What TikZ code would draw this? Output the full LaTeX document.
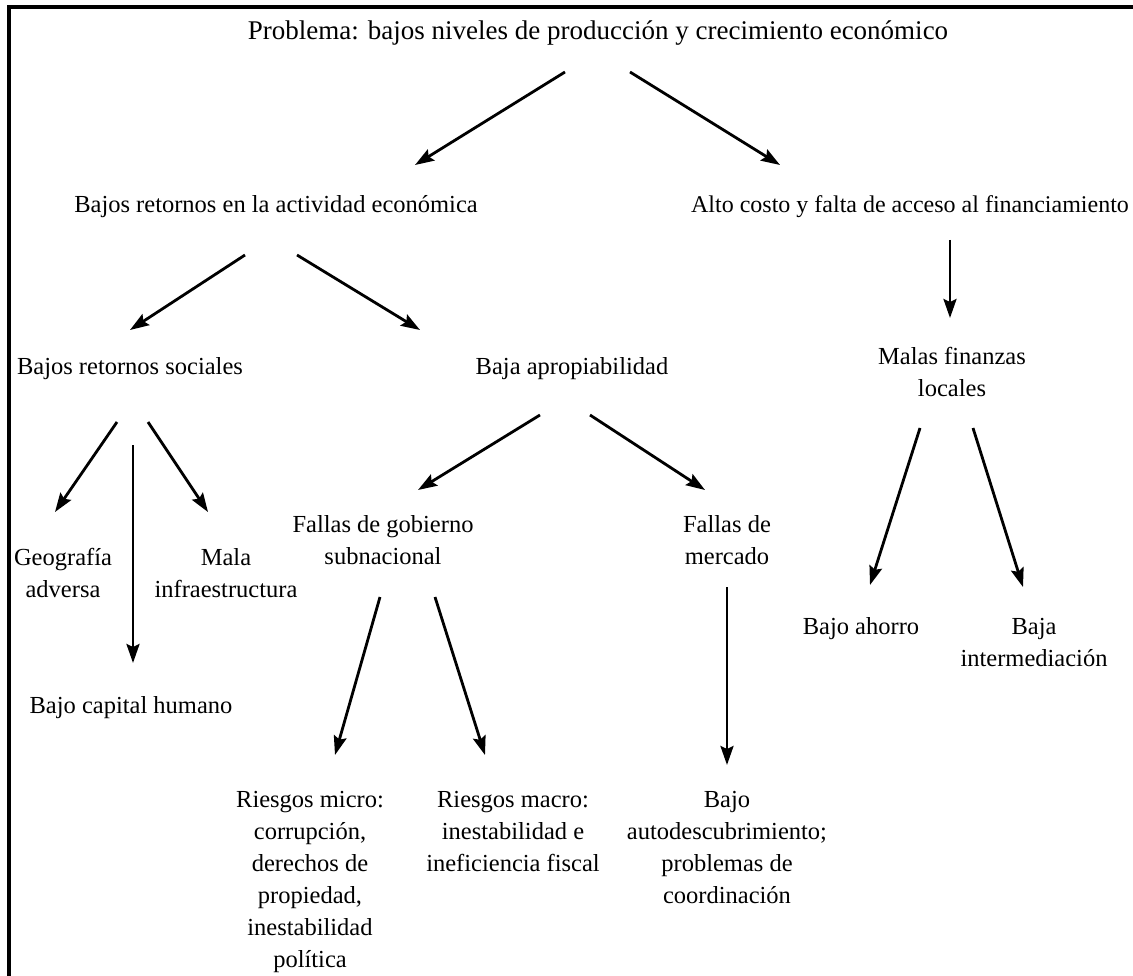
\documentclass[tikz,border=0pt]{standalone}
\usepackage{fontspec}
\setmainfont{Liberation Serif}
\usetikzlibrary{arrows.meta,calc}
\tikzset{
  lbl/.style={anchor=base, align=center, inner sep=0pt, font=\fontsize{24.5}{32}\selectfont},
  ttl/.style={lbl, font=\fontsize{27}{32}\selectfont},
  arr/.style={line width=2.8pt, -{Stealth[length=19pt,width=13pt,inset=3pt]}},
  frame/.style={line width=4pt}
}
\begin{document}
\begin{tikzpicture}[x=1pt,y=-1pt]
\useasboundingbox (0,0) rectangle (1133,976);
\draw[frame] (9,976) -- (9,6.7) -- (1133,6.7);

% single-line nodes: anchor at baseline; multi-line nodes: anchor at last line's baseline
\node[ttl] (title) at (598,40) {Problema: bajos niveles de producción y crecimiento económico};
\node[lbl] (bre) at (276,213) {Bajos retornos en la actividad económica};
\node[lbl, font=\fontsize{24}{32}\selectfont] (alto) at (910,213) {Alto costo y falta de acceso al financiamiento};
\node[lbl] (soc) at (130,374) {Bajos retornos sociales};
\node[lbl] (apr) at (572,374) {Baja apropiabilidad};
\node[lbl] (malas) at (952,396) {Malas finanzas\\locales};
\node[lbl] (gob) at (383,564) {Fallas de gobierno\\subnacional};
\node[lbl] (merc) at (727,564) {Fallas de\\mercado};
\node[lbl] (geo) at (63,597) {Geografía\\adversa};
\node[lbl] (mala) at (226,597) {Mala\\infraestructura};
\node[lbl] (capital) at (131,713) {Bajo capital humano};
\node[lbl] (ahorro) at (861,634) {Bajo ahorro};
\node[lbl] (inter) at (1034,666) {Baja\\intermediación};
\node[lbl] (micro) at (310,967) {Riesgos micro:\\corrupción,\\derechos de\\propiedad,\\inestabilidad\\política};
\node[lbl] (macro) at (513,871) {Riesgos macro:\\inestabilidad e\\ineficiencia fiscal};
\node[lbl] (auto) at (727,903) {Bajo\\autodescubrimiento;\\problemas de\\coordinación};

\draw[arr] ($(title.base)+(-33,32)$) -- ($(bre.base)+(139,-48)$);
\draw[arr] ($(title.base)+(32,32)$) -- ($(alto.base)+(-130,-48)$);
\draw[arr] ($(alto.base)+(40,27)$) -- ($(malas.base)+(-2,-78)$);
\draw[arr] ($(bre.base)+(-31,42)$) -- ($(soc.base)+(0,-44)$);
\draw[arr] ($(bre.base)+(21,42)$) -- ($(apr.base)+(-152,-44)$);
\draw[arr] ($(soc.base)+(-13,48)$) -- ($(geo.base)+(-8,-85)$);
\draw[arr] ($(soc.base)+(3,71)$) -- ($(capital.base)+(2,-50)$);
\draw[arr] ($(soc.base)+(18,48)$) -- ($(mala.base)+(-18,-85)$);
\draw[arr] ($(apr.base)+(-32,41)$) -- ($(gob.base)+(35,-74)$);
\draw[arr] ($(apr.base)+(18,41)$) -- ($(merc.base)+(-22,-74)$);
\draw[arr] ($(gob.base)+(-3,33)$) -- ($(micro.base)+(25,-212)$);
\draw[arr] ($(gob.base)+(52,33)$) -- ($(macro.base)+(-28,-116)$);
\draw[arr] ($(merc.base)+(0,23)$) -- ($(auto.base)+(0,-138)$);
\draw[arr] ($(malas.base)+(-32,32)$) -- ($(ahorro.base)+(9,-49)$);
\draw[arr] ($(malas.base)+(21,32)$) -- ($(inter.base)+(-11,-79)$);
\end{tikzpicture}
\end{document}
